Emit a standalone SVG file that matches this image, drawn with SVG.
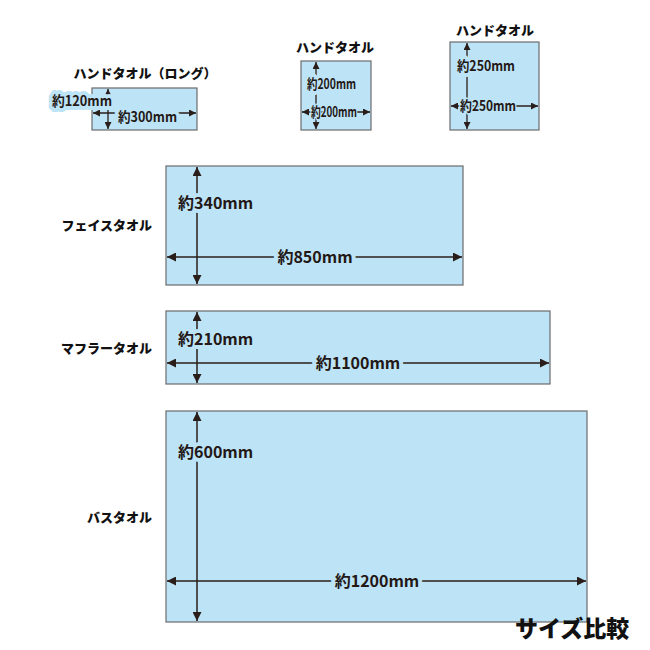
<svg xmlns="http://www.w3.org/2000/svg" width="650" height="650" viewBox="0 0 650 650">
<style>
.bg{fill:#ffffff}
.towel{fill:#bde3f7;stroke:#6b6b6b;stroke-width:1.2}
.dim{stroke:#2a1e1a;stroke-width:1.5;fill:none;marker-start:url(#ah);marker-end:url(#ah)}
.dims{stroke:#2a1e1a;stroke-width:1.3;fill:none;marker-start:url(#ahs);marker-end:url(#ahs)}
.lbl{font-family:"Noto Sans CJK JP","Liberation Sans",sans-serif;font-weight:900;fill:#111;font-size:13px}
.t{font-family:"Noto Sans CJK JP","Liberation Sans",sans-serif;font-weight:bold;fill:#231815;stroke:#bde3f7;stroke-width:8;stroke-linejoin:round;paint-order:stroke}
.thin{stroke-width:3}
.big{font-size:16px}
.sm{font-size:14px}
.title{font-family:"Noto Sans CJK JP","Liberation Sans",sans-serif;font-weight:900;fill:#111;font-size:23px}
</style>
<defs>
<marker id="ah" viewBox="0 0 10 10" refX="10" refY="5" markerWidth="9" markerHeight="9" markerUnits="userSpaceOnUse" orient="auto-start-reverse">
<path d="M0,0 L10,5 L0,10 z" fill="#2a1e1a"/>
</marker>
<marker id="ahs" viewBox="0 0 10 10" refX="10" refY="5" markerWidth="7" markerHeight="7" markerUnits="userSpaceOnUse" orient="auto-start-reverse">
<path d="M0,0 L10,5 L0,10 z" fill="#2a1e1a"/>
</marker>
</defs>
<rect class="bg" x="0" y="0" width="650" height="650"/>

<g id="hand-long">
<rect class="towel" x="92" y="88" width="105" height="42"/>
<text class="lbl" x="145" y="78" text-anchor="middle">ハンドタオル（ロング）</text>
</g>
<g id="hand-200">
<rect class="towel" x="301" y="61" width="70" height="69"/>
<text class="lbl" x="335" y="52" text-anchor="middle">ハンドタオル</text>
</g>
<g id="hand-250">
<rect class="towel" x="450" y="42" width="89" height="88"/>
<text class="lbl" x="495" y="35" text-anchor="middle">ハンドタオル</text>
</g>
<g id="face">
<rect class="towel" x="166" y="166" width="297" height="119"/>
<text class="lbl" x="152" y="230" text-anchor="end">フェイスタオル</text>
</g>
<g id="muffler">
<rect class="towel" x="166" y="311" width="384" height="73"/>
<text class="lbl" x="152" y="353" text-anchor="end">マフラータオル</text>
</g>
<g id="bath">
<rect class="towel" x="166" y="411" width="421" height="211"/>
<text class="lbl" x="152" y="522" text-anchor="end">バスタオル</text>
</g>

<g id="connectors">
<line class="dims" x1="108" y1="89" x2="108" y2="129"/>
<line class="dims" x1="93" y1="113" x2="196" y2="113"/>
<line class="dims" x1="316" y1="62" x2="316" y2="129"/>
<line class="dims" x1="302" y1="112" x2="370" y2="112"/>
<line class="dims" x1="467" y1="43" x2="467" y2="129"/>
<line class="dims" x1="451" y1="106" x2="538" y2="106"/>
<line class="dim" x1="197" y1="167" x2="197" y2="284"/>
<line class="dim" x1="167" y1="257" x2="462" y2="257"/>
<line class="dim" x1="197" y1="312" x2="197" y2="383"/>
<line class="dim" x1="167" y1="363" x2="549" y2="363"/>
<line class="dim" x1="197" y1="412" x2="197" y2="621"/>
<line class="dim" x1="167" y1="581" x2="586" y2="581"/>
</g>

<g id="dim-labels">
<text class="t sm" x="52" y="106" textLength="60" lengthAdjust="spacingAndGlyphs">約120mm</text>
<text class="t sm" x="118" y="122" textLength="59" lengthAdjust="spacingAndGlyphs">約300mm</text>
<text class="t sm" x="307" y="89" textLength="49" lengthAdjust="spacingAndGlyphs">約200mm</text>
<text class="t sm thin" x="311" y="117" textLength="46" lengthAdjust="spacingAndGlyphs">約200mm</text>
<text class="t sm" x="457" y="71" textLength="58" lengthAdjust="spacingAndGlyphs">約250mm</text>
<text class="t sm thin" x="460" y="111" textLength="56" lengthAdjust="spacingAndGlyphs">約250mm</text>
<text class="t big" x="178" y="209">約340mm</text>
<text class="t big" x="315" y="263" text-anchor="middle">約850mm</text>
<text class="t big" x="178" y="345">約210mm</text>
<text class="t big" x="358" y="369" text-anchor="middle">約1100mm</text>
<text class="t big" x="178" y="458">約600mm</text>
<text class="t big" x="377" y="587" text-anchor="middle">約1200mm</text>
</g>

<text class="title" x="515" y="637">サイズ比較</text>
</svg>
